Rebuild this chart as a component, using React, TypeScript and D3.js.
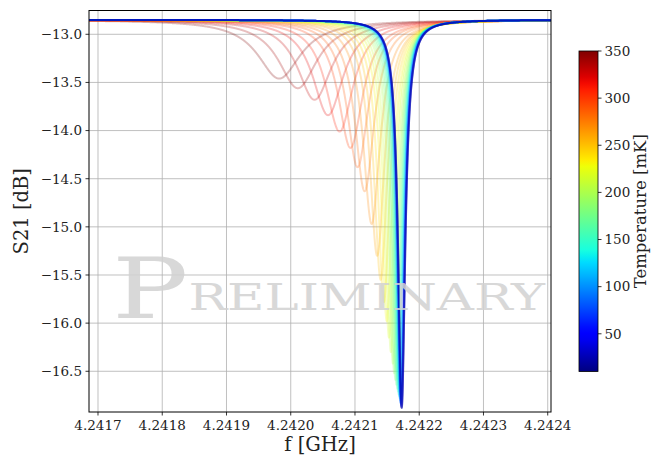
import React from 'react';
import * as d3 from 'd3';

// temperature sweep, one resonance per temperature (mK)
const temps = [350, 340, 330, 320, 310, 300, 290, 280, 270, 260, 250, 240, 230, 220, 210, 200, 190, 180,
  170, 160, 150, 140, 130, 120, 110, 100, 90, 80, 70, 60, 50, 40, 30, 20, 10];
// resonance frequency (GHz)
const resFreq = [4.241982, 4.242011, 4.242037, 4.242058, 4.242076, 4.242093, 4.242104, 4.242115, 4.242126,
  4.2421345, 4.242140, 4.242145, 4.2421495, 4.242153, 4.242156, 4.242159, 4.242161, 4.242163, 4.2421645,
  4.242166, 4.242167, 4.242168, 4.242169, 4.2421697, 4.2421703, 4.2421708, 4.2421712, 4.2421716,
  4.2421719, 4.2421722, 4.2421724, 4.2421726, 4.2421727, 4.2421728, 4.2421728];
// depth of each dip (dB)
const dipMin = [-13.46, -13.56, -13.68, -13.84, -14.01, -14.18, -14.38, -14.63, -14.97, -15.30, -15.55,
  -15.78, -15.98, -16.15, -16.30, -16.42, -16.52, -16.59, -16.64, -16.68, -16.71, -16.74, -16.76, -16.78,
  -16.80, -16.82, -16.83, -16.84, -16.85, -16.86, -16.87, -16.87, -16.88, -16.88, -16.88];
// half linewidth (kHz)
const halfWidth = [42, 38, 34, 30.5, 27.5, 25, 22.5, 20.5, 18.5, 16.5, 15, 13.8, 12.8, 12, 11.3, 10.7, 10.2,
  9.8, 9.5, 9.2, 9.0, 8.8, 8.7, 8.6, 8.5, 8.5, 8.5, 8.5, 8.5, 8.5, 8.5, 8.5, 8.5, 8.5, 8.5];
const baseline = -12.85;

const xTicks = [4.2417, 4.2418, 4.2419, 4.2420, 4.2421, 4.2422, 4.2423, 4.2424];
const yTicks = [-13.0, -13.5, -14.0, -14.5, -15.0, -15.5, -16.0, -16.5];
const cbarTicks = [50, 100, 150, 200, 250, 300, 350];

const W = 652, H = 455;
const m = { left: 89, right: 551, top: 10.5, bottom: 412 };
const cb = { x: 579, w: 19, top: 51, bottom: 371.5 };
const serif = 'DejaVu Serif, serif';

// matplotlib "jet"
const jetR = d3.scaleLinear([0, 0.35, 0.66, 0.89, 1], [0, 0, 1, 1, 0.5]).clamp(true);
const jetG = d3.scaleLinear([0, 0.125, 0.375, 0.64, 0.91, 1], [0, 0, 1, 1, 0, 0]).clamp(true);
const jetB = d3.scaleLinear([0, 0.11, 0.34, 0.65, 1], [0.5, 1, 1, 0, 0]).clamp(true);
const jet = (t: number) => d3.rgb(jetR(t) * 255, jetG(t) * 255, jetB(t) * 255).formatHex();

export default function App() {
  const x = d3.scaleLinear().domain([4.241686, 4.2424051]).range([m.left, m.right]);
  const y = d3.scaleLinear().domain([-12.753, -16.923]).range([m.top, m.bottom]);
  const tScale = d3.scaleLinear().domain([10, 350]).range([0, 1]);
  const cbY = d3.scaleLinear().domain([10, 350]).range([cb.bottom, cb.top]);

  const grid = d3.range(x.domain()[0], x.domain()[1], 0.25e-6);
  const line = d3.line<[number, number]>().x(d => x(d[0])).y(d => y(d[1]));

  const curves = temps.map((t, i) => {
    const a = 1 - Math.pow(10, (dipMin[i] - baseline) / 20);
    const hw = halfWidth[i] * 1e-6;
    const fs = grid.concat([resFreq[i]]).sort((p, q) => p - q);
    const pts: [number, number][] = fs.map(f => {
      const u = (f - resFreq[i]) / hw;
      const s2 = ((1 - a) * (1 - a) + u * u) / (1 + u * u);
      return [f, baseline + 10 * Math.log10(s2)];
    });
    return { t, d: line(pts) as string, color: jet(tScale(t)) };
  });

  const stops = d3.range(0, 1.0001, 0.02);

  return (
    <svg width={W} height={H} style={{ position: 'absolute', left: 0, top: 0, background: '#fff' }}>
      <defs>
        <clipPath id="plot">
          <rect x={m.left} y={m.top} width={m.right - m.left} height={m.bottom - m.top} />
        </clipPath>
        <linearGradient id="jet" x1="0" y1="1" x2="0" y2="0">
          {stops.map(s => <stop key={s} offset={s} stopColor={jet(s)} />)}
        </linearGradient>
      </defs>

      {/* grid */}
      <g stroke="#b0b0b0" strokeWidth={0.8}>
        {xTicks.map(t => <line key={t} x1={x(t)} x2={x(t)} y1={m.top} y2={m.bottom} />)}
        {yTicks.map(t => <line key={t} x1={m.left} x2={m.right} y1={y(t)} y2={y(t)} />)}
      </g>

      <g clipPath="url(#plot)" fill="none" strokeWidth={2} strokeLinejoin="round">
        {curves.map(c => <path key={c.t} d={c.d} stroke={c.color} strokeOpacity={0.25} />)}
      </g>

      {/* watermark */}
      <text x={112} y={318} fill="#d2d2d2" opacity={0.85} fontFamily={serif} textLength={433}
        lengthAdjust="spacingAndGlyphs">
        <tspan fontSize={84}>P</tspan>
        <tspan fontSize={38} dy={-8}>RELIMINARY</tspan>
      </text>

      <rect x={m.left} y={m.top} width={m.right - m.left} height={m.bottom - m.top}
        fill="none" stroke="#000" strokeWidth={1} />

      {/* x axis */}
      <g fontFamily={serif} fontSize={13.5} fill="#222" textAnchor="middle">
        {xTicks.map(t => (
          <g key={t}>
            <line x1={x(t)} x2={x(t)} y1={m.bottom} y2={m.bottom + 3.5} stroke="#000" strokeWidth={0.8} />
            <text x={x(t)} y={m.bottom + 18}>{d3.format('.4f')(t)}</text>
          </g>
        ))}
      </g>
      <text x={(m.left + m.right) / 2} y={451} fontFamily={serif} fontSize={19.5} fill="#222"
        textAnchor="middle">f [GHz]</text>

      {/* y axis */}
      <g fontFamily={serif} fontSize={13.5} fill="#222" textAnchor="end">
        {yTicks.map(t => (
          <g key={t}>
            <line x1={m.left - 3.5} x2={m.left} y1={y(t)} y2={y(t)} stroke="#000" strokeWidth={0.8} />
            <text x={m.left - 7} y={y(t) + 4.8}>{d3.format('.1f')(t)}</text>
          </g>
        ))}
      </g>
      <text transform={`translate(28,${(m.top + m.bottom) / 2}) rotate(-90)`} fontFamily={serif}
        fontSize={19.5} fill="#222" textAnchor="middle">S21 [dB]</text>

      {/* colorbar */}
      <rect x={cb.x} y={cb.top} width={cb.w} height={cb.bottom - cb.top} fill="url(#jet)"
        stroke="#000" strokeWidth={0.8} />
      <g fontFamily={serif} fontSize={13.5} fill="#222">
        {cbarTicks.map(t => (
          <g key={t}>
            <line x1={cb.x + cb.w} x2={cb.x + cb.w + 3.5} y1={cbY(t)} y2={cbY(t)} stroke="#000" strokeWidth={0.8} />
            <text x={cb.x + cb.w + 6.5} y={cbY(t) + 4.8}>{t}</text>
          </g>
        ))}
      </g>
      <text transform={`translate(646,${(cb.top + cb.bottom) / 2}) rotate(-90)`} fontFamily={serif}
        fontSize={16.5} fill="#222" textAnchor="middle">Temperature [mK]</text>
    </svg>
  );
}
